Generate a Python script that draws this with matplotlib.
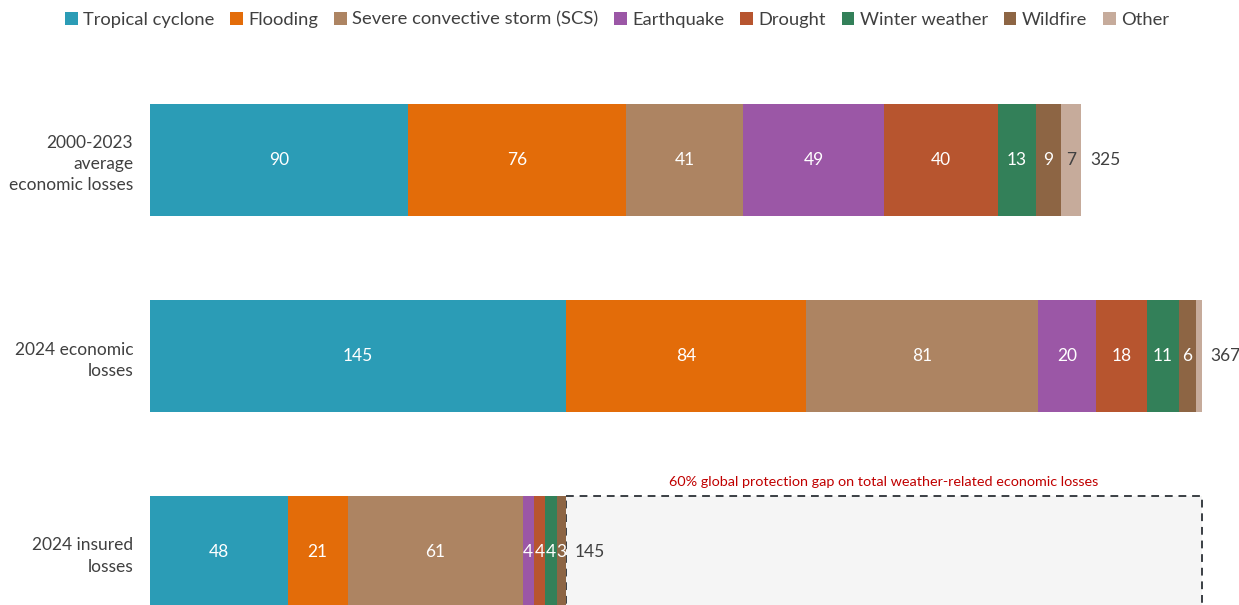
import numpy as np
import matplotlib.pyplot as plt

plt.rcParams['font.family'] = ['Lato', 'DejaVu Sans']

# loss values in USD bn, by peril
perils = ['Tropical cyclone', 'Flooding', 'Severe convective storm (SCS)', 'Earthquake',
          'Drought', 'Winter weather', 'Wildfire', 'Other']
colors = ['#2B9CB6', '#E36C09', '#AD8462', '#9B57A6', '#B7552F', '#338059', '#8D6544', '#C6AB9B']
rows = ['2000-2023\naverage\neconomic losses', '2024 economic\nlosses', '2024 insured\nlosses']
avg_2000_2023 = [90, 76, 41, 49, 40, 13, 9, 7]
econ_2024 = [145, 84, 81, 20, 18, 11, 6, 2]
insured_2024 = [48, 21, 61, 4, 4, 4, 3, 0]
totals = [325, 367, 145]
gap_text = '60% global protection gap on total weather-related economic losses'

data = np.array([avg_2000_2023, econ_2024, insured_2024])
label_dark = '#404040'

fig = plt.figure(figsize=(12.39, 6.05), dpi=100)
ax = fig.add_axes([150 / 1239, 0, 1089 / 1239, 565 / 605])

ypos = np.arange(len(rows))
h = 112 / 196

# protection gap box behind the insured bar
ax.barh(2, totals[1] - totals[2], left=totals[2], height=h, color='#F5F5F5',
        edgecolor='#3A3F44', linestyle=(0, (4, 3)), linewidth=1.4, zorder=1)
ax.text((totals[2] + totals[1]) / 2, 2 - h / 2 - 0.04, gap_text, color='#C00000',
        fontsize=10.4, ha='center', va='bottom')

left = np.zeros(len(rows))
for j, p in enumerate(perils):
    vals = data[:, j]
    ax.barh(ypos, vals, left=left, height=h, color=colors[j], label=p, zorder=2)
    for i, v in enumerate(vals):
        if v >= 3 and not (i == 1 and p == 'Other'):
            c = label_dark if p == 'Other' else 'white'
            ax.text(left[i] + v / 2, i, str(v), ha='center', va='center',
                    color=c, fontsize=12.5, zorder=3)
    left += vals

for i, t in enumerate(totals):
    ax.text(left[i] + 3, i, str(t), ha='left', va='center', color=label_dark, fontsize=12.5)

ax.set_xlim(0, 380)
ax.set_ylim((605 - 160) / 196, (40 - 160) / 196)
ax.set_yticks(ypos)
ax.set_yticklabels(rows, fontsize=12.5, color=label_dark, linespacing=1.4)
ax.tick_params(axis='y', length=0, pad=12)
ax.set_xticks([])
for s in ax.spines.values():
    s.set_visible(False)

fig.legend(loc='upper center', bbox_to_anchor=(0.498, 1.008), ncol=8, frameon=False,
           fontsize=13.2, handlelength=0.7, handleheight=0.7, handletextpad=0.3,
           columnspacing=0.85, labelcolor=label_dark)

fig.savefig('out.png', dpi=100)
